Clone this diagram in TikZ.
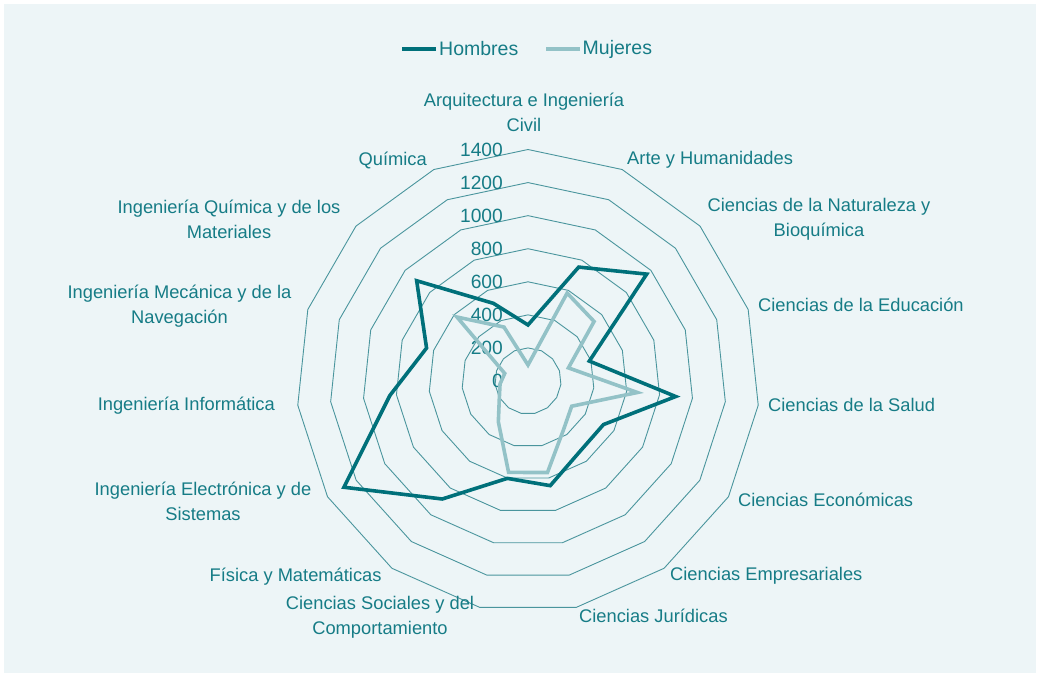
\documentclass[tikz,border=0pt]{standalone}
\usepackage{fontspec}
\setmainfont{Liberation Sans}
\definecolor{fondo}{HTML}{EDF5F7}
\definecolor{oscuro}{HTML}{00707A}
\definecolor{claro}{HTML}{93C2C7}
\definecolor{rejillacol}{HTML}{4A959D}
\definecolor{texto}{HTML}{167C86}

\begin{document}
\begin{tikzpicture}[x=1pt, y=1pt]
	\tikzset{rejilla/.style={draw=rejillacol, line width=0.9pt},
		hombres/.style={draw=oscuro, line width=3.6pt},
		mujeres/.style={draw=claro, line width=3.6pt},
		etiqueta/.style={text=texto, inner sep=0pt, align=center, font=\fontsize{18.3}{25}\selectfont},
		escala/.style={text=texto, inner sep=0pt, anchor=east, font=\fontsize{19.2}{22}\selectfont},
		leyenda/.style={text=texto, inner sep=0pt, anchor=west, font=\fontsize{19.5}{22}\selectfont}};

	\useasboundingbox (-528,381) rectangle (512,-296);
	\fill[white] (-528,381) rectangle (512,-296);
	\fill[fondo] (-524,377) rectangle (508,-292);

	% anillos de 200 en 200
	\foreach \n in {1,...,7}
		\draw[rejilla] (90:\n*33.07) \foreach \k in {1,...,14}{ -- ({90-24*\k}:\n*33.07)} -- cycle;

	\foreach \n/\t in {0/0, 1/200, 2/400, 3/600, 4/800, 5/1000, 6/1200, 7/1400}
		\node[escala] (e\n) at (-25, \n*33.07) {\t};

	% datos
	\foreach \v [count=\k from 0] in {339,754,966,390,898,527,530,647,602,882,1285,840,645,906,514}
		\coordinate (h\k) at ({90-24*\k}:{0.16536*\v});
	\foreach \v [count=\k from 0] in {97,582,538,257,665,305,365,566,565,305,200,170,148,578,357}
		\coordinate (m\k) at ({90-24*\k}:{0.16536*\v});

	\draw[hombres] (h0) \foreach \k in {1,...,14}{ -- (h\k)} -- cycle;
	\draw[mujeres] (m0) \foreach \k in {1,...,14}{ -- (m\k)} -- cycle;

	% leyenda
	\node[leyenda] (lh) at ( -89, 332) {Hombres};
	\node[leyenda] (lm) at (54.5, 332) {Mujeres};
	\draw[hombres] (lh.west) ++(-3,0) -- ++(-34,0);
	\draw[mujeres] (lm.west) ++(-3,0) -- ++(-34,0);

	% categorias
	\node[etiqueta]              (a0)  at (  -4,  268.5) {Arquitectura e Ingeniería\\Civil};
	\node[etiqueta, anchor=west] (a1)  at (  99,  221) {Arte y Humanidades};
	\node[etiqueta]              (a2)  at ( 291,  161.8) {Ciencias de la Naturaleza y\\Bioquímica};
	\node[etiqueta, anchor=west] (a3)  at ( 230,   76) {Ciencias de la Educación};
	\node[etiqueta, anchor=west] (a4)  at ( 240,  -24) {Ciencias de la Salud};
	\node[etiqueta, anchor=west] (a5)  at ( 210, -119) {Ciencias Económicas};
	\node[etiqueta, anchor=west] (a6)  at ( 142, -195) {Ciencias Empresariales};
	\node[etiqueta, anchor=west] (a7)  at (  51, -235) {Ciencias Jurídicas};
	\node[etiqueta]              (a8)  at (-148, -236) {Ciencias Sociales y del\\Comportamiento};
	\node[etiqueta, anchor=east] (a9)  at (-146.3, -195.7) {Física y Matemáticas};
	\node[etiqueta]              (a10) at (-325, -120.7) {Ingeniería Electrónica y de\\Sistemas};
	\node[etiqueta, anchor=east] (a11) at (-253,  -25) {Ingeniería Informática};
	\node[etiqueta]              (a12) at (-348.5, 74.5) {Ingeniería Mecánica y de la\\Navegación};
	\node[etiqueta]              (a13) at (-299,  162) {Ingeniería Química y de los\\Materiales};
	\node[etiqueta, anchor=east] (a14) at (-101,  221) {Química};

\end{tikzpicture}
\end{document}
